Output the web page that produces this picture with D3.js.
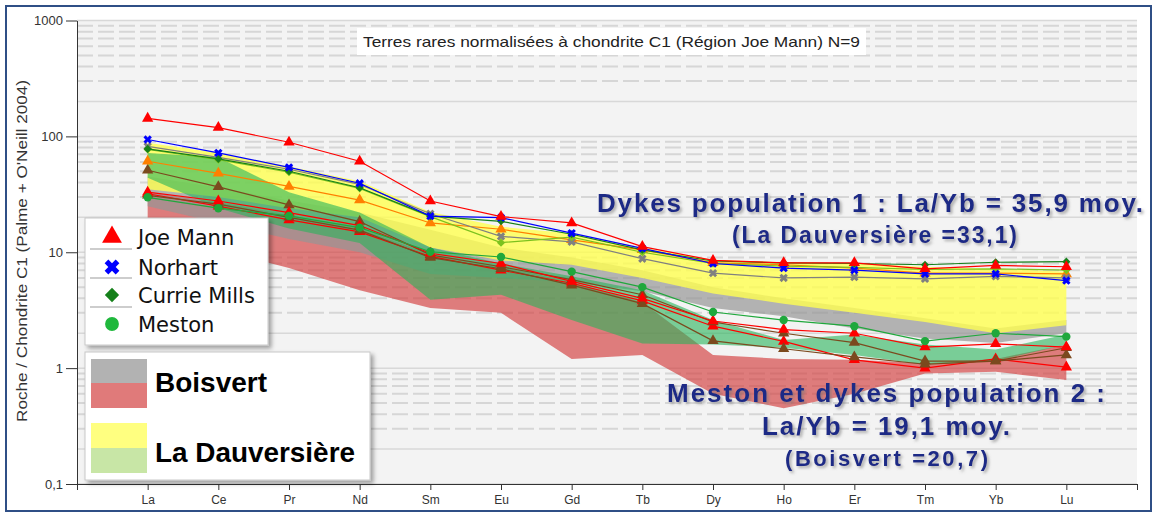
<!DOCTYPE html>
<html>
<head>
<meta charset="utf-8">
<script src="https://cdn.jsdelivr.net/npm/d3@7"></script>
<style>
body { margin: 0; background: #fff; }
svg { display: block; }
</style>
</head>
<body>
<svg id="svg" width="1156" height="513"></svg>
<script>
// rare earth elements, x axis
var elements = ['La','Ce','Pr','Nd','Sm','Eu','Gd','Tb','Dy','Ho','Er','Tm','Yb','Lu'];
var yTicks = [0.1, 1, 10, 100, 1000];

// samples
var joeMannHigh  = [143, 119, 89, 61, 27.7, 20.3, 17.9, 11.2, 8.5, 8.1, 8.1, 7.2, 7.7, 7.5];
var norhart      = [94, 72, 54, 39.4, 20.5, 19.9, 14.6, 10.8, 8.0, 7.3, 7.0, 6.5, 6.5, 5.7];
var norhartGray  = [82, 66, 52, 38.5, 21.5, 13.7, 12.3, 8.8, 6.6, 6.0, 6.1, 5.9, 6.2, 6.0];
var currieDark   = [78, 64, 50, 36, 20.5, 18.5, 14.3, 10.5, 8.4, 8.1, 8.0, 7.8, 8.2, 8.3];
var currieLime   = [77, 63, 49, 35.6, 20.3, 12.1, 13.5, 10.0, 8.0, 7.6, 7.4, 7.1, 7.2, 7.0];
var joeMannOrg   = [61, 48, 37, 28.2, 17.9, 15.8, 12.8, 10.5, 8.1, 7.8, 7.3, 6.6, 6.6, 6.5];
var joeMannBrA   = [51, 36.7, 25.6, 18.4, 9.5, 7.5, 5.8, 4.3, 2.5, 2.0, 1.66, 1.15, 1.15, 1.5];
var joeMannLow   = [33, 27.7, 22, 17, 9.8, 8.0, 5.6, 4.0, 2.55, 2.15, 2.0, 1.52, 1.62, 1.52];
var joeMannBrB   = [31, 26, 20, 15.5, 9.0, 7.2, 5.2, 3.6, 1.72, 1.47, 1.25, 1.08, 1.15, 1.3];
var joeMannLow2  = [32, 25, 19, 15, 9.2, 7.0, 5.4, 3.8, 2.3, 1.7, 1.18, 1.0, 1.2, 1.02];
var meston       = [29.8, 24, 20.6, 16.3, 10.1, 9.1, 6.8, 5.0, 3.05, 2.6, 2.3, 1.71, 2.0, 1.87];

// envelopes
var boisRedTop    = [33, 27, 21, 16, 9.5, 7.5, 5.5, 3.7, 1.3, 1.2, 1.18, 1.1, 1.2, 1.6];
var boisRedBot    = [14, 10.5, 7.3, 4.7, 3.3, 3.0, 1.2, 1.3, 0.6, 0.45, 0.6, 0.9, 0.93, 0.79];
var boisGrayTop   = [45, 36, 28, 22, 15.6, 11, 9, 7, 5, 4, 3.3, 2.7, 2.2, 2.6];
var boisGrayBot   = [25, 18, 13, 10, 6.5, 6, 5.5, 4.6, 3.3, 2.8, 2.2, 1.8, 1.65, 2.0];
var dauvYelTop    = [88, 72, 55, 41, 22.3, 16.6, 14.5, 11, 8.6, 8.2, 8.0, 7.5, 7.2, 6.8];
var dauvYelBot    = [35, 30, 24, 20, 11, 8.5, 7.8, 6.0, 4.4, 3.6, 3.0, 2.5, 2.0, 2.35];
var dauvGrnTop    = [72, 66, 33, 22, 11, 8, 6.2, 4.7, 2.6, 1.75, 1.95, 1.6, 1.45, 1.95];
var dauvGrnBot    = [44, 24, 16, 12, 3.9, 4.3, 2.6, 1.63, 1.6, 1.5, 1.3, 1.07, 1.15, 1.6];

var series = [
    {values: joeMannLow2, color: '#ff0000', shape: 'triangle'},
    {values: joeMannBrB, color: '#7b4a1e', shape: 'triangle'},
    {values: joeMannBrA, color: '#7b4a1e', shape: 'triangle'},
    {values: joeMannLow, color: '#ff0000', shape: 'triangle'},
    {values: meston, color: '#1fa83c', shape: 'circle'},
    {values: joeMannOrg, color: '#ff8000', shape: 'triangle'},
    {values: norhartGray, color: '#808080', shape: 'cross'},
    {values: currieLime, color: '#7cc21e', shape: 'diamond'},
    {values: currieDark, color: '#15801a', shape: 'diamond'},
    {values: norhart, color: '#0000ff', shape: 'cross'},
    {values: joeMannHigh, color: '#ff0000', shape: 'triangle'}
];

var bands = [
    {top: boisRedTop, bot: boisRedBot, fill: 'rgb(210,60,60)', op: 0.65},
    {top: boisGrayTop, bot: boisGrayBot, fill: 'rgb(150,150,150)', op: 0.7},
    {top: dauvYelTop, bot: dauvYelBot, fill: 'rgb(255,255,80)', op: 0.8},
    {top: dauvGrnTop, bot: dauvGrnBot, fill: 'rgb(40,180,90)', op: 0.6}
];

var svg = d3.select('svg');
var plotLeft = 77, plotRight = 1137, plotTop = 20.5, plotBottom = 484;

var x = d3.scaleLinear().domain([0, 15]).range([plotLeft, plotRight]);
var y = d3.scaleLog().domain([0.1, 1000]).range([plotBottom, plotTop]);

var defs = svg.append('defs');
var sh = defs.append('filter').attr('id', 'boxShadow').attr('x', '-10%').attr('y', '-10%').attr('width', '130%').attr('height', '130%');
sh.append('feDropShadow').attr('dx', 3).attr('dy', 3).attr('stdDeviation', 2)
    .attr('flood-color', '#000').attr('flood-opacity', 0.35);
var tsh = defs.append('filter').attr('id', 'textShadow').attr('x', '-5%').attr('y', '-20%').attr('width', '110%').attr('height', '150%');
tsh.append('feDropShadow').attr('dx', 2).attr('dy', 2).attr('stdDeviation', 1.5)
    .attr('flood-color', '#777').attr('flood-opacity', 0.6);
defs.append('clipPath').attr('id', 'plotClip').append('rect')
    .attr('x', plotLeft).attr('y', plotTop).attr('width', plotRight - plotLeft).attr('height', plotBottom - plotTop);

// outer frame
svg.append('rect').attr('x', 6).attr('y', 6).attr('width', 1145).attr('height', 505)
    .attr('fill', '#fff').attr('stroke', '#2f4f86').attr('stroke-width', 2);

// plot background
svg.append('rect').attr('x', plotLeft).attr('y', plotTop).attr('width', plotRight - plotLeft).attr('height', plotBottom - plotTop)
    .attr('fill', '#f3f3f3');

// gridlines
var grid = svg.append('g');
[0.1, 1, 10, 100].forEach(function(dec) {
    for (var m = 1; m <= 9; m++) {
        var v = dec * m;
        grid.append('line')
            .attr('x1', plotLeft).attr('x2', plotRight)
            .attr('y1', y(v)).attr('y2', y(v))
            .attr('stroke', m <= 2 ? '#d8d8d8' : '#d6d6d6')
            .attr('stroke-width', m <= 2 ? 1.5 : 2)
            .attr('stroke-dasharray', m <= 2 ? null : '16,5');
    }
});
grid.append('line').attr('x1', plotLeft).attr('x2', plotRight).attr('y1', y(1000)).attr('y2', y(1000))
    .attr('stroke', '#d8d8d8').attr('stroke-width', 1.5);

// title box
svg.append('rect').attr('x', 357).attr('y', 28).attr('width', 509).attr('height', 27).attr('fill', '#fff');
svg.append('text').attr('x', 363).attr('y', 47)
    .attr('font-family', 'Liberation Sans, Arial, sans-serif').attr('font-size', 15)
    .attr('textLength', 497).attr('lengthAdjust', 'spacingAndGlyphs')
    .attr('fill', '#222')
    .text('Terres rares normalisées à chondrite C1 (Région Joe Mann) N=9');

var plot = svg.append('g').attr('clip-path', 'url(#plotClip)');

// envelopes
bands.forEach(function(b) {
    var area = d3.area()
        .x(function(d, i) { return x(i + 1); })
        .y0(function(d) { return y(d[1]); })
        .y1(function(d) { return y(d[0]); });
    plot.append('path')
        .datum(d3.zip(b.top, b.bot))
        .attr('d', area)
        .attr('fill', b.fill)
        .attr('fill-opacity', b.op);
});

// sample lines
var line = d3.line()
    .x(function(d, i) { return x(i + 1); })
    .y(function(d) { return y(d); });

function symbolPath(shape, size) {
    if (shape == 'triangle') return d3.symbol().type(d3.symbolTriangle).size(size)();
    if (shape == 'diamond') return d3.symbol().type(d3.symbolSquare).size(size * 0.6)();
    if (shape == 'cross') return d3.symbol().type(d3.symbolCross).size(size * 0.8)();
    return d3.symbol().type(d3.symbolCircle).size(size)();
}
function rotated(shape) {
    return (shape == 'cross' || shape == 'diamond') ? ' rotate(45)' : '';
}

series.forEach(function(s) {
    plot.append('path')
        .datum(s.values)
        .attr('d', line)
        .attr('fill', 'none')
        .attr('stroke', s.color)
        .attr('stroke-width', 1.2);
    plot.selectAll(null)
        .data(s.values)
        .enter()
        .append('path')
        .attr('d', symbolPath(s.shape, 55))
        .attr('transform', function(d, i) {
            return 'translate(' + x(i + 1) + ',' + y(d) + ')' + rotated(s.shape);
        })
        .attr('fill', s.color);
});

// axes
var xAxis = d3.axisBottom(x)
    .tickValues(d3.range(0, 16))
    .tickFormat(function(i) { return elements[i - 1] || ''; })
    .tickSize(6).tickSizeOuter(0);
var gx = svg.append('g').attr('transform', 'translate(0,' + plotBottom + ')').call(xAxis);
gx.selectAll('text').attr('font-family', 'Liberation Sans, Arial, sans-serif').attr('font-size', 12)
    .attr('fill', '#333').attr('dy', '0.95em');

var yAxis = d3.axisLeft(y)
    .tickValues(yTicks)
    .tickFormat(function(d) { return d < 1 ? '0,1' : d; })
    .tickSize(11).tickSizeOuter(0);
var gy = svg.append('g').attr('transform', 'translate(' + plotLeft + ',0)').call(yAxis);
gy.selectAll('text').attr('font-family', 'Liberation Sans, Arial, sans-serif').attr('font-size', 13)
    .attr('fill', '#333').attr('x', -14);
svg.selectAll('.domain, .tick line').attr('stroke', '#333');

svg.append('text')
    .attr('transform', 'translate(27,251) rotate(-90)')
    .attr('text-anchor', 'middle')
    .attr('font-family', 'Liberation Sans, Arial, sans-serif').attr('font-size', 14)
    .attr('textLength', 342).attr('lengthAdjust', 'spacingAndGlyphs')
    .attr('fill', '#333')
    .text('Roche / Chondrite C1 (Palme + O\'Neill 2004)');

// annotations
var notes = [
    {t: 'Dykes population 1 : La/Yb = 35,9 moy.', x: 597, y: 212, s: 26, w: 546},
    {t: '(La Dauversière =33,1)', x: 732, y: 243, s: 23, w: 285},
    {t: 'Meston et dykes population 2 :', x: 667, y: 402, s: 26, w: 438},
    {t: 'La/Yb = 19,1 moy.', x: 762, y: 435, s: 26, w: 248},
    {t: '(Boisvert =20,7)', x: 785, y: 466, s: 22, w: 203}
];
svg.selectAll('.note')
    .data(notes)
    .enter()
    .append('text')
    .attr('class', 'note')
    .attr('x', function(d) { return d.x; })
    .attr('y', function(d) { return d.y; })
    .attr('font-size', function(d) { return d.s; })
    .attr('textLength', function(d) { return d.w; })
    .attr('lengthAdjust', 'spacing')
    .attr('font-family', 'Liberation Sans, Arial, sans-serif')
    .attr('font-weight', 'bold')
    .attr('fill', '#1f2a86')
    .attr('filter', 'url(#textShadow)')
    .text(function(d) { return d.t; });

// legend 1
var leg1 = svg.append('g');
leg1.append('rect').attr('x', 85).attr('y', 218).attr('width', 183).attr('height', 127)
    .attr('fill', '#fff').attr('stroke', '#c8c8c8').attr('filter', 'url(#boxShadow)');
var legItems = [
    {name: 'Joe Mann', color: '#ff0000', shape: 'triangle', y: 237},
    {name: 'Norhart', color: '#0000ff', shape: 'cross', y: 267},
    {name: 'Currie Mills', color: '#15801a', shape: 'diamond', y: 295},
    {name: 'Meston', color: '#1fb83c', shape: 'circle', y: 324}
];
[249, 278, 307].forEach(function(ly) {
    leg1.append('line').attr('x1', 90).attr('x2', 132).attr('y1', ly).attr('y2', ly)
        .attr('stroke', '#bdbdbd').attr('stroke-width', 1.5);
});
legItems.forEach(function(d) {
    leg1.append('path')
        .attr('d', symbolPath(d.shape, d.shape == 'circle' ? 150 : 170))
        .attr('transform', 'translate(112,' + d.y + ')' + rotated(d.shape))
        .attr('fill', d.color);
    leg1.append('text').attr('x', 138).attr('y', d.y + 8)
        .attr('font-family', 'DejaVu Sans, sans-serif').attr('font-size', 21)
        .attr('fill', '#111')
        .text(d.name);
});

// legend 2
var leg2 = svg.append('g');
leg2.append('rect').attr('x', 85).attr('y', 352).attr('width', 285).attr('height', 128)
    .attr('fill', '#fff').attr('stroke', '#c8c8c8').attr('filter', 'url(#boxShadow)');
var swatches = [
    {y: 359, c: '#b2b2b2'}, {y: 383, c: '#e07a7a'},
    {y: 423, c: '#ffff80'}, {y: 448, c: '#c8e6a6'}
];
swatches.forEach(function(d) {
    leg2.append('rect').attr('x', 91).attr('y', d.y).attr('width', 56).attr('height', 25).attr('fill', d.c);
});
leg2.append('text').attr('x', 155).attr('y', 392)
    .attr('font-family', 'Liberation Sans, Arial, sans-serif').attr('font-size', 27).attr('font-weight', 'bold')
    .attr('textLength', 112).attr('lengthAdjust', 'spacingAndGlyphs').attr('fill', '#000')
    .text('Boisvert');
leg2.append('text').attr('x', 155).attr('y', 462)
    .attr('font-family', 'Liberation Sans, Arial, sans-serif').attr('font-size', 27).attr('font-weight', 'bold')
    .attr('textLength', 200).attr('lengthAdjust', 'spacingAndGlyphs').attr('fill', '#000')
    .text('La Dauversière');
</script>
</body>
</html>
